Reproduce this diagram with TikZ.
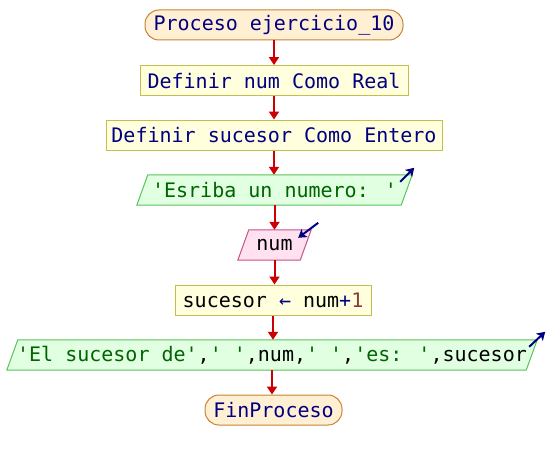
\documentclass[tikz,border=0pt]{standalone}
\usepackage{fontspec}
\newfontfamily\pfont{DejaVu Sans Mono}
\usetikzlibrary{arrows.meta,calc,backgrounds}
\definecolor{navy}{RGB}{0,0,128}
\definecolor{strg}{RGB}{0,100,0}
\definecolor{numc}{RGB}{140,60,60}
\definecolor{termfill}{RGB}{255,240,212}
\definecolor{termdraw}{RGB}{200,130,50}
\definecolor{boxfill}{RGB}{255,255,221}
\definecolor{boxdraw}{RGB}{195,190,80}
\definecolor{greenfill}{RGB}{225,255,225}
\definecolor{greendraw}{RGB}{90,195,90}
\definecolor{pinkfill}{RGB}{255,225,240}
\definecolor{pinkdraw}{RGB}{200,80,140}
\definecolor{flowred}{RGB}{204,0,0}
\tikzset{
  base/.style={inner sep=0pt, minimum height=30pt, font=\pfont\fontsize{20}{24}\selectfont},
  term/.style={base, draw=termdraw, fill=termfill, line width=1pt, rounded corners=14pt, text=navy},
  procbox/.style={base, draw=boxdraw, fill=boxfill, line width=1pt},
  io/.style={base},
  outshape/.style={draw=greendraw, fill=greenfill, line width=1pt},
  inshape/.style={draw=pinkdraw, fill=pinkfill, line width=1pt},
  flow/.style={draw=flowred, line width=2pt, -{Triangle[width=10pt,length=8pt]}},
  icon/.style={draw=navy, line width=2pt, -{Stealth[length=8pt,width=10pt,inset=2pt]}}
}
\begin{document}
\begin{tikzpicture}[x=1pt,y=-1pt]
\useasboundingbox (0,0) rectangle (548,460);
\node[term, minimum width=258pt] (t1) at (274,25) {Proceso ejercicio\_10};
\node[procbox, minimum width=268pt, text=navy] (b1) at (274,80.5) {Definir num Como Real};
\node[procbox, minimum width=336pt, text=navy] (b2) at (274,135) {Definir sucesor Como Entero};
\node[io, minimum width=275pt, text=strg] (p1) at (274.5,190) {'Esriba un numero: '};
\node[io, minimum width=73pt] (p2) at (274.5,245) {num};
\node[procbox, minimum width=196pt] (b3) at (273,300) {sucesor {\color{navy}←} num{\color{navy}+}{\color{numc}1}};
\node[io, minimum width=530pt] (p3) at (272,355) {{\color{strg}'El sucesor de'},{\color{strg}' '},num,{\color{strg}' '},{\color{strg}'es: '},sucesor};
\node[term, minimum width=137pt] (t2) at (273.5,410) {FinProceso};
\begin{scope}[on background layer]
\path[outshape] ($(p1.north west)+(11,0)$) -- (p1.north east) -- ($(p1.south east)+(-11,0)$) -- (p1.south west) -- cycle;
\path[inshape] ($(p2.north west)+(11,0)$) -- (p2.north east) -- ($(p2.south east)+(-11,0)$) -- (p2.south west) -- cycle;
\path[outshape] ($(p3.north west)+(11,0)$) -- (p3.north east) -- ($(p3.south east)+(-11,0)$) -- (p3.south west) -- cycle;
\end{scope}
\draw[icon] ($(p1.north east)+(-12,7)$) -- ($(p1.north east)+(2,-7)$);
\draw[icon] ($(p2.north east)+(7,-7)$) -- ($(p2.north east)+(-13,8)$);
\draw[icon] ($(p3.north east)+(-8,7)$) -- ($(p3.north east)+(8,-8)$);
\draw[flow] (t1.south) -- (t1.south |- b1.north);
\draw[flow] (b1.south) -- (b1.south |- b2.north);
\draw[flow] (b2.south) -- (b2.south |- p1.north);
\draw[flow] (p1.south) -- (p1.south |- p2.north);
\draw[flow] (p2.south) -- (p2.south |- b3.north);
\draw[flow] (b3.south) -- (b3.south |- p3.north);
\draw[flow] (p3.south) -- (p3.south |- t2.north);
\end{tikzpicture}
\end{document}
